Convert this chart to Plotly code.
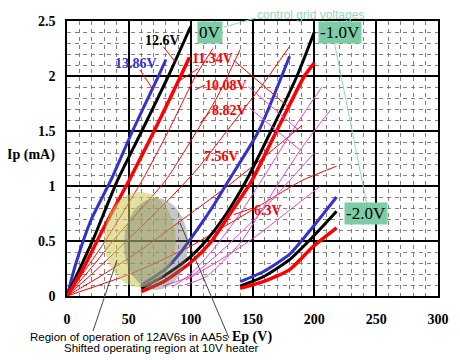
import plotly.graph_objects as go

# ---------------- data (Ep in V, Ip in mA) ----------------
# control grid 0 V, heater voltages
g0_1386_x = [0, 7.3, 19.4, 35.6, 53, 74, 80]
g0_1386_y = [0, 0.30, 0.69, 1.055, 1.50, 2.00, 2.15]
g0_126_x = [0, 10, 21, 41, 60.5, 82, 100]
g0_126_y = [0, 0.24, 0.51, 1.055, 1.50, 2.00, 2.45]
g0_1134_x = [0, 12.7, 28.8, 50.4, 70.5, 92, 99]
g0_1134_y = [0, 0.24, 0.60, 1.055, 1.50, 2.00, 2.17]
g0_1008_x = [0, 15, 31.5, 61, 82, 104, 118]
g0_1008_y = [0, 0.24, 0.51, 1.055, 1.50, 2.00, 2.25]
g0_882_x = [0, 20, 40, 80, 105, 121, 140]
g0_882_y = [0, 0.26, 0.54, 1.055, 1.50, 1.80, 2.24]
g0_756_x = [0, 25, 50, 80, 105, 132, 160, 180]
g0_756_y = [0, 0.25, 0.52, 0.85, 1.15, 1.54, 1.95, 2.27]
g0_63_x = [0, 30, 60, 100, 130, 160, 190]
g0_63_y = [0, 0.20, 0.42, 0.75, 1.00, 1.27, 1.55]
g0_504_x = [0, 51, 99.5, 130, 160, 190, 218]
g0_504_y = [0, 0.20, 0.45, 0.65, 0.85, 1.05, 1.18]

# control grid -1.0 V
g1_1386_x = [60, 70, 80, 90, 100, 110, 120, 128, 155, 180]
g1_1386_y = [0.10, 0.17, 0.25, 0.37, 0.52, 0.68, 0.85, 1.00, 1.50, 2.18]
g1_126_x = [60, 78, 97, 113, 129, 145, 165, 186, 200]
g1_126_y = [0.07, 0.18, 0.33, 0.51, 0.75, 1.05, 1.50, 2.00, 2.40]
g1_1134_x = [60, 78, 99.5, 115.6, 132, 149, 169.5, 192, 200]
g1_1134_y = [0.04, 0.13, 0.30, 0.48, 0.75, 1.04, 1.50, 2.00, 2.12]
g1_1008_x = [85, 100, 118, 140, 160, 185, 206]
g1_1008_y = [0.08, 0.20, 0.42, 0.75, 1.10, 1.55, 1.90]
g1_882_x = [95, 113, 140, 164, 190, 213]
g1_882_y = [0.10, 0.18, 0.48, 0.90, 1.35, 1.69]
g1_756_x = [80, 100, 120, 150, 180, 200]
g1_756_y = [0.10, 0.18, 0.36, 0.68, 1.05, 1.30]
g1_63_x = [96, 120, 150, 180, 205]
g1_63_y = [0.145, 0.30, 0.52, 0.78, 1.00]

# control grid -2.0 V
g2_1386_x = [140, 158.7, 180, 199, 218]
g2_1386_y = [0.13, 0.22, 0.38, 0.63, 0.90]
g2_126_x = [140, 158.7, 180, 199, 218]
g2_126_y = [0.09, 0.175, 0.33, 0.54, 0.77]
g2_1134_x = [140, 158.7, 180, 199, 218]
g2_1134_y = [0.07, 0.13, 0.24, 0.45, 0.62]

x_ticks = [0, 50, 100, 150, 200, 250, 300]
y_ticks = [0, 0.5, 1, 1.5, 2, 2.5]
y_tick_text = ["0", "0.5", "1", "1.5", "2", "2.5"]

BLUE = "#3333cc"
RED = "#ff0000"
MAG = "#ee44cc"
SERIF = "Liberation Serif"
SANS = "Liberation Sans"

fig = go.Figure()


def curve(x, y, color, width):
    fig.add_trace(go.Scatter(x=x, y=y, mode="lines", showlegend=False,
                             hoverinfo="skip",
                             line=dict(color=color, width=width,
                                       shape="spline", smoothing=0.6)))


for x, y in [(g0_1008_x, g0_1008_y), (g0_882_x, g0_882_y),
             (g0_756_x, g0_756_y), (g0_63_x, g0_63_y), (g0_504_x, g0_504_y)]:
    curve(x, y, RED, 1)
for x, y in [(g1_1008_x, g1_1008_y), (g1_882_x, g1_882_y),
             (g1_756_x, g1_756_y), (g1_63_x, g1_63_y)]:
    curve(x, y, MAG, 1)
for grp in [(g0_1386_x, g0_1386_y, g0_126_x, g0_126_y, g0_1134_x, g0_1134_y),
            (g1_1386_x, g1_1386_y, g1_126_x, g1_126_y, g1_1134_x, g1_1134_y),
            (g2_1386_x, g2_1386_y, g2_126_x, g2_126_y, g2_1134_x, g2_1134_y)]:
    curve(grp[0], grp[1], BLUE, 3)
    curve(grp[2], grp[3], "black", 3)
    curve(grp[4], grp[5], RED, 3.5)

shapes = []
# operating-region ellipses
shapes.append(dict(type="circle", xref="x", yref="y", x0=30, x1=88, y0=0.08, y1=0.945,
                   fillcolor="rgba(200,200,90,0.55)", line=dict(width=0), layer="above"))
shapes.append(dict(type="circle", xref="x", yref="y", x0=46, x1=98, y0=0.055, y1=0.89,
                   fillcolor="rgba(110,110,110,0.40)", line=dict(width=0), layer="above"))


def leader(x0, y0, x1, y1, color, ref="x", width=1):
    yr = "y" if ref == "x" else "paper"
    shapes.append(dict(type="line", xref=ref, yref=yr, x0=x0, y0=y0, x1=x1, y1=y1,
                       line=dict(color=color, width=width), layer="above"))


leader(59, 2.055, 69.8, 1.873, RED)
leader(77.9, 2.266, 87.3, 2.13, RED)
leader(106.2, 2.07, 91.4, 1.96, RED)
leader(134.5, 2.145, 180.3, 1.706, RED)
leader(111.6, 1.918, 103.5, 1.873, RED)
leader(146.6, 1.903, 187, 1.51, MAG)
leader(115.6, 1.675, 107.5, 1.57, RED)
leader(148, 1.706, 188.4, 1.327, MAG)
leader(150.4, 0.80, 135, 0.74, RED)

# screen pixel -> paper fraction (plot area spans 67..438 x, 21..296 y on screen)
def px(xp):
    return (xp - 67) / 371


def py(yp):
    return (296 - yp) / 275


GREEN_L = "#8fd9b9"
leader(px(256), py(18), px(224), py(27), GREEN_L, ref="paper")
leader(px(330), py(21), px(367), py(205), GREEN_L, ref="paper")
leader(px(93), py(331), px(117), py(260), "#444444", ref="paper")
leader(px(180), py(223), px(229), py(338), "#444444", ref="paper")

ann = []


def note(text, x, y, font, ref="paper", **kw):
    ann.append(dict(text=text, x=x, y=y, xref=ref, yref=("paper" if ref == "paper" else "y"),
                    xanchor="center", yanchor="middle", showarrow=False, font=font, **kw))


def lab(text, x, y, color, size=14):
    note("<b>%s</b>" % text, x, y, dict(family=SERIF, size=size, color=color), ref="x")


lab("12.6V", 77.6, 2.327, "black")
lab("13.86V", 55.8, 2.11, BLUE)
lab("11.34V", 118, 2.155, RED)
lab("10.08V", 128.6, 1.918, RED)
lab("8.82V", 131, 1.69, RED)
lab("7.56V", 125.3, 1.264, RED)
lab("6.3V", 162.5, 0.78, RED)

BOX = "#7dcca6"
for t, xc, yc in [("0V", 209.5, 32), ("-1.0V", 339.5, 33), ("-2.0V", 365.5, 213)]:
    note(t, px(xc), py(yc), dict(family=SERIF, size=17, color="black"),
         bgcolor=BOX, borderpad=1)

note("control grid voltages", px(310), py(15.5), dict(family=SANS, size=12, color=GREEN_L))
note("<b>Ip (mA)</b>", px(30.5), py(155), dict(family=SERIF, size=14, color="black"))
note("<b>Ep (V)</b>", px(252), py(337), dict(family=SERIF, size=14, color="black"))
note("Region of operation of 12AV6s in AA5s", px(129), py(337),
     dict(family=SANS, size=11.5, color="black"))
note("Shifted operating region at 10V heater", px(161.5), py(348),
     dict(family=SANS, size=11.5, color="black"))

axis_common = dict(showline=True, mirror=True, linecolor="black", linewidth=1.5,
                   showgrid=True, gridcolor="black", gridwidth=1.5, zeroline=False,
                   automargin=False,
                   ticks="", tickfont=dict(family=SERIF, size=14, color="black", weight="bold"))
# the page body adds an 8px offset; margins compensate so the plot area lands at 67..438 / 21..296
fig.update_layout(
    width=460, height=360,
    margin=dict(l=59, r=30, t=13, b=72, autoexpand=False),
    paper_bgcolor="white", plot_bgcolor="white",
    xaxis=dict(range=[0, 300], tickvals=x_ticks, ticklabelstandoff=9,
               minor=dict(dtick=10, showgrid=True, gridcolor="#808080", griddash="4px,4px", gridwidth=1),
               **axis_common),
    yaxis=dict(range=[0, 2.5], tickvals=y_ticks, ticktext=y_tick_text, ticklabelstandoff=7,
               minor=dict(dtick=0.1, showgrid=True, gridcolor="#808080", griddash="4px,4px", gridwidth=1),
               **axis_common),
    shapes=shapes, annotations=ann,
)
fig.write_html("out.html")
